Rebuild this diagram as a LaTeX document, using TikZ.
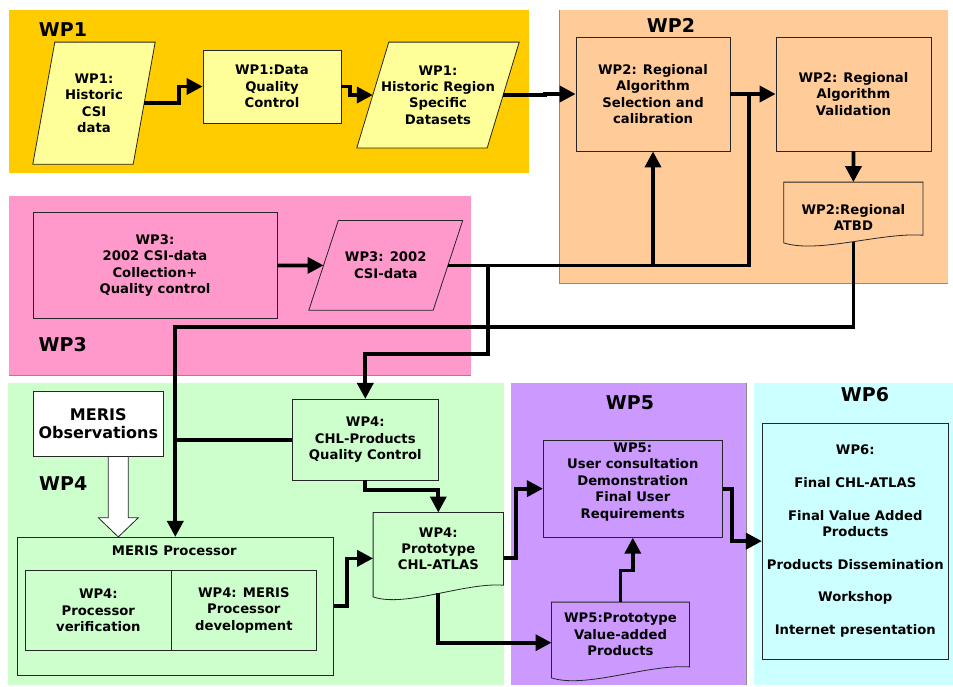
\documentclass[tikz,border=0pt]{standalone}
\usepackage{fontspec}
\setmainfont{DejaVu Sans}
\usetikzlibrary{arrows.meta,calc}
\pgfdeclarelayer{bg}
\pgfdeclarelayer{shp}
\pgfsetlayers{bg,shp,main}
\definecolor{wpa}{HTML}{FFCC00}
\definecolor{wpab}{HTML}{FFFF99}
\definecolor{wpb}{HTML}{FFCC99}
\definecolor{wpc}{HTML}{FF99CC}
\definecolor{wpd}{HTML}{CCFFCC}
\definecolor{wpe}{HTML}{CC99FF}
\definecolor{wpf}{HTML}{CCFFFF}
\newcommand\bxfont{\fontsize{13.2}{16.4}\selectfont\bfseries}
\newcommand\wpfont{\fontsize{19}{22}\selectfont\bfseries}
\newcommand\obsfont{\fontsize{16}{18.3}\selectfont\bfseries}
\tikzset{
  box/.style={draw=black!85, line width=0.8pt, align=center, font=\bxfont, inner sep=0pt},
  txt/.style={align=center, font=\bxfont, inner sep=0pt},
  wplabel/.style={font=\wpfont, inner sep=0pt},
  conn/.style={line width=3.7pt},
  arr/.style={line width=3.7pt, -{Triangle[length=16pt,width=16pt]}},
  outl/.style={draw=black!85, line width=0.8pt},
  paneledge/.style={draw=black!45, line width=0.8pt},
}
\newcommand\paraoutline[3]{%
  \filldraw[outl, fill=#3] ($(#1.north west)+(#2,0)$) -- (#1.north east) -- ($(#1.south east)+(-#2,0)$) -- (#1.south west) -- cycle;}
\newcommand\docoutline[4]{%
  \filldraw[outl, fill=#4] (#1.south east) -- (#1.north east) -- (#1.north west) -- ($(#1.south west)+(0,#3)$) .. controls ($(#1.south west)+(0.25*#2,#3+11)$) and ($(#1.south west)+(0.7*#2,-3)$) .. (#1.south east) -- cycle;}
\begin{document}
\begin{tikzpicture}[x=1pt,y=-1pt]
\useasboundingbox (0,0) rectangle (953,686);
% panels
\begin{pgfonlayer}{bg}
  \fill[wpa] (8.6,10) rectangle (529,172.7);
  \fill[wpb] (559,10) rectangle (948,283);
  \fill[wpc] (9,196) rectangle (470.7,375);
  \fill[wpd] (8,383) rectangle (504,685);
  \fill[wpe] (511,383) rectangle (746.7,685);
  \fill[wpf] (754,383) rectangle (953,685);
  \draw[paneledge] (559,10) -- (559,283) -- (948,283);
  \draw[paneledge] (9,375) -- (470.7,375);
  \draw[paneledge] (746.7,383) -- (746.7,685);
\end{pgfonlayer}
% panel labels
\node[wplabel] (l1) at (63,30) {WP1};
\node[wplabel] (l2) at (671,25) {WP2};
\node[wplabel] (l3) at (62.7,345) {WP3};
\node[wplabel] (l4) at (63.3,484) {WP4};
\node[wplabel] (l5) at (630,402.7) {WP5};
\node[wplabel] (l6) at (865,395) {WP6};
% WP1
\node[txt, minimum width=122pt, minimum height=121.7pt] (csi) at (94,103.15) {WP1:\\Historic\\CSI\\data};
\node[box, fill=wpab, minimum width=138pt, minimum height=73pt] (dqc) at (272,86.5) {WP1:Data\\Quality\\Control};
\node[txt, minimum width=162pt, minimum height=105.4pt] (hrsd) at (438,95) {WP1:\\Historic Region\\Specific\\Datasets};
% WP2
\node[box, fill=wpb, minimum width=154pt, minimum height=114pt] (sel) at (653,94) {WP2: Regional\\Algorithm\\Selection and\\calibration};
\node[box, fill=wpb, minimum width=155pt, minimum height=114pt] (val) at (853.5,94) {WP2: Regional\\Algorithm\\Validation};
\node[txt, minimum width=138.7pt, minimum height=52.7pt] (atbd) at (853.35,208.65) {\strut\\WP2:Regional\\ATBD};
% WP3
\node[box, fill=wpc, minimum width=244pt, minimum height=105.6pt] (coll) at (155,265.5) {WP3:\\2002 CSI-data\\Collection+\\Quality control};
\node[txt, minimum width=153.5pt, minimum height=89.3pt] (p2002) at (385.75,265.35) {WP3: 2002\\CSI-data};
% WP4
\node[box, fill=white, font=\obsfont, minimum width=130pt, minimum height=64.3pt] (obs) at (98.3,423.85) {MERIS\\Observations};
\node[box, fill=wpd, minimum width=146pt, minimum height=80.7pt] (qc) at (365.3,439.65) {WP4:\\CHL-Products\\Quality Control};
\node[box, fill=wpd, minimum width=316pt, minimum height=137.7pt] (proc) at (175.3,606.15) {};
\node[txt] (proclabel) at (174.3,550.7) {MERIS Processor};
\node[box, fill=wpd, minimum width=145.3pt, minimum height=80.7pt] (verif) at (98.35,610.35) {WP4:\\Processor\\verification};
\node[box, fill=wpd, minimum width=145.7pt, minimum height=80.7pt] (dev) at (243.85,610.35) {WP4: MERIS\\Processor\\development};
\node[txt, minimum width=130pt, minimum height=72.3pt] (atlas) at (438.3,548.85) {WP4:\\Prototype\\CHL-ATLAS};
% WP5
\node[box, fill=wpe, minimum width=179pt, minimum height=97.3pt] (user) at (632.8,488.65) {WP5:\\User consultation\\Demonstration\\Final User\\Requirements\\\mbox{}};
\node[txt, minimum width=137.6pt, minimum height=64.4pt] (proto) at (620.5,634.5) {WP5:Prototype\\Value-added\\Products};
% WP6
\node[box, fill=wpf, minimum width=186pt, minimum height=235.7pt] (wp6) at (855.3,541.15) {WP6:\\[16.2pt]Final CHL-ATLAS\\[16.2pt]Final Value Added\\Products\\[16.2pt]Products Dissemination\\[16.2pt]Workshop\\[16.2pt]Internet presentation};
% outlines of parallelograms and documents
\begin{pgfonlayer}{shp}
  \paraoutline{csi}{22}{wpab}
  \paraoutline{hrsd}{32}{wpab}
  \paraoutline{p2002}{29.5}{wpc}
  \docoutline{atbd}{138.7}{7.7}{wpb}
  \docoutline{atlas}{130}{11.7}{wpd}
  \docoutline{proto}{137.6}{11}{wpe}
\end{pgfonlayer}
% hollow arrow
\coordinate (obsA) at ($(obs.south)+(20,0)$);
\filldraw[outl, fill=white] ($(obsA)+(-10,0)$) -- ($(obsA)+(10,0)$) -- ($(obsA)+(10,61.3)$) -- ($(obsA)+(20,61.3)$) -- (obsA |- proc.north) -- ($(obsA)+(-20,61.3)$) -- ($(obsA)+(-10,61.3)$) -- cycle;
% connectors
\draw[arr] ($(csi.east)+(-11,0)$) -- ++(35,0) |- (dqc.west);
\draw[arr] (dqc.east) -- ++(8.5,0) |- ($(hrsd.west)+(16,0)$);
\draw[arr] ($(hrsd.east)+(-16,0)$) -- ++(42,0) |- (sel.west);
\draw[arr] (sel.east) -- (val.west);
\draw[arr] (val.south) -- (atbd.north);
\draw[conn] ($(p2002.east)+(-14.75,0)$) -| ($(sel.east)!0.41!(val.west)$);
\draw[arr] (sel.south |- p2002.east) -- (sel.south);
\draw[arr] (coll.east) -- ($(p2002.west)+(14.75,0)$);
\draw[arr] ($(p2002.east)+(25,0)$) -- ++(0,88.65) -| (qc.north);
\draw[arr] ($(atbd.south)+(0,6.5)$) |- ($(proc.north)+(0,-210)$) -- (proc.north);
\draw[conn] (qc.west) -- (qc.west -| proc.north);
\draw[arr] (qc.south) -- ++(0,9.3) -| (atlas.north);
\draw[arr] (proc.east) -- ++(13.4,0) |- ($(atlas.west)+(0,9.5)$);
\draw[arr] ($(atlas.east)+(0,9)$) -- ++(12.7,0) |- (user.west);
\draw[arr] ($(atlas.south)+(0,8)$) |- ($(proto.west)+(0,8.2)$);
\draw[arr] (proto.north) -- ++(0,-31.6) -| (user.south);
\draw[arr] (user.east) -- ++(9.4,0) |- (wp6.west);
\end{tikzpicture}
\end{document}
